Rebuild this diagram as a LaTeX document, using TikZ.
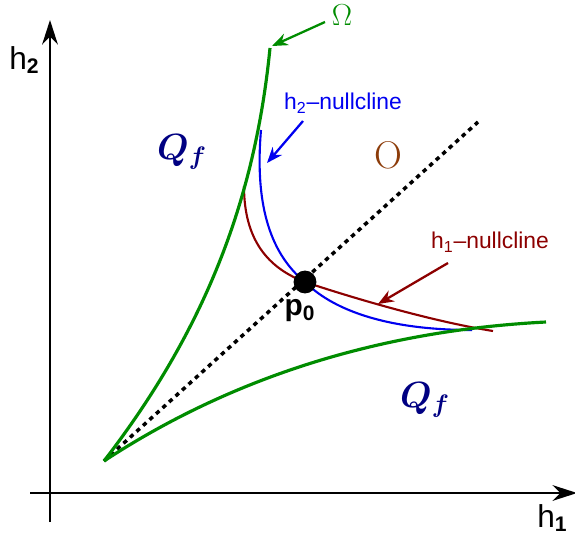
\documentclass[tikz,border=0pt]{standalone}
\usepackage{amsmath,amssymb,bm}
\usepackage{fontspec}
\setsansfont{Liberation Sans}
\usetikzlibrary{arrows.meta}
\begin{document}
\begin{tikzpicture}[x=0.02cm, y=-0.02cm, >=stealth]

			% ==========================================
			% 1. COLOURS
			% ==========================================
			\definecolor{omegacol}{RGB}{0, 140, 0}      % green boundary
			\definecolor{htwocol}{RGB}{0, 0, 240}       % h2 nullcline
			\definecolor{honecol}{RGB}{140, 0, 0}       % h1 nullcline
			\definecolor{ocol}{RGB}{140, 60, 10}        % region O
			\definecolor{qcol}{RGB}{0, 0, 130}          % region Q_f

			\tikzset{
				axis/.style={line width=1.2pt, ->, >={Stealth[length=14pt, width=9pt]}},
				pointer/.style={line width=1.3pt, ->, >={Stealth[length=9pt, width=7pt]}},
				lbl/.style={inner sep=1pt, font=\sffamily\fontsize{13}{15}\selectfont},
				axlbl/.style={font=\sffamily\fontsize{18}{20}\selectfont}
			}

			\useasboundingbox (0,0) rectangle (575,538);

			% ==========================================
			% 2. AXES
			% ==========================================
			\coordinate (ybot) at (50,522);
			\coordinate (ytop) at (50,20);
			\coordinate (xleft) at (30,493);
			\coordinate (xright) at (577,493);
			\draw[axis] (ybot) -- (ytop);
			\draw[axis] (xleft) -- (xright);
			\node[axlbl] (hlabtwo) at (24,60) {h\raisebox{-2pt}{\bfseries\fontsize{12}{14}\selectfont 2}};
			\node[axlbl] (hlabone) at (552,518) {h\raisebox{-2pt}{\bfseries\fontsize{12}{14}\selectfont 1}};

			% ==========================================
			% 3. CURVES
			% ==========================================
			\coordinate (orig) at (104,461);
			\coordinate (pzero) at (305,282);

			% diagonal
			\draw[line width=2pt, dash pattern=on 2.5pt off 2.5pt] (orig) -- (478,122);

			% h2 nullcline
			\draw[htwocol, line width=1.2pt] (261,130) .. controls (255,200) and (268,252) .. (pzero)
				.. controls (330,307) and (380,330) .. (472,330);

			% h1 nullcline
			\draw[honecol, line width=1.2pt] (244,186) .. controls (244,240) and (268,268) .. (pzero)
				.. controls (350,297) and (430,321) .. (493,331);

			% upper and lower boundary of Omega
			\draw[omegacol, line width=1.8pt] (orig) .. controls (205,330) and (255,200) .. (270,48);
			\draw[omegacol, line width=1.8pt] (orig) .. controls (240,372) and (390,330) .. (546,322);

			% fixed point
			\fill (pzero) circle (6.5pt);
			\node[font=\sffamily\bfseries\fontsize{17}{20}\selectfont] (plab) at (300,311) {p\textsubscript{0}};

			% ==========================================
			% 4. LABELS AND POINTERS
			% ==========================================
			\node[omegacol, font=\fontsize{18}{20}\selectfont] (omlab) at (342,15) {$\Omega$};
			\coordinate (omtip) at (272,46);
			\draw[pointer, omegacol] (325,22) -- (omtip);

			\node[lbl, text=htwocol] (htwolab) at (343,103) {h\textsubscript{2}--nullcline};
			\coordinate (htwotip) at (267,163);
			\draw[pointer, htwocol] (303,121) -- (htwotip);

			\node[lbl, text=honecol] (honelab) at (490,242) {h\textsubscript{1}--nullcline};
			\coordinate (honetip) at (378,304);
			\draw[pointer, honecol] (448,263) -- (honetip);

			\node[ocol, font=\fontsize{22}{24}\selectfont] (olab) at (388,155) {O};

			\node[qcol, font=\fontsize{22}{26}\selectfont] (qone) at (182,152) {$\bm{Q_f}$};
			\node[qcol, font=\fontsize{22}{26}\selectfont] (qtwo) at (425,400) {$\bm{Q_f}$};

\end{tikzpicture}
\end{document}
